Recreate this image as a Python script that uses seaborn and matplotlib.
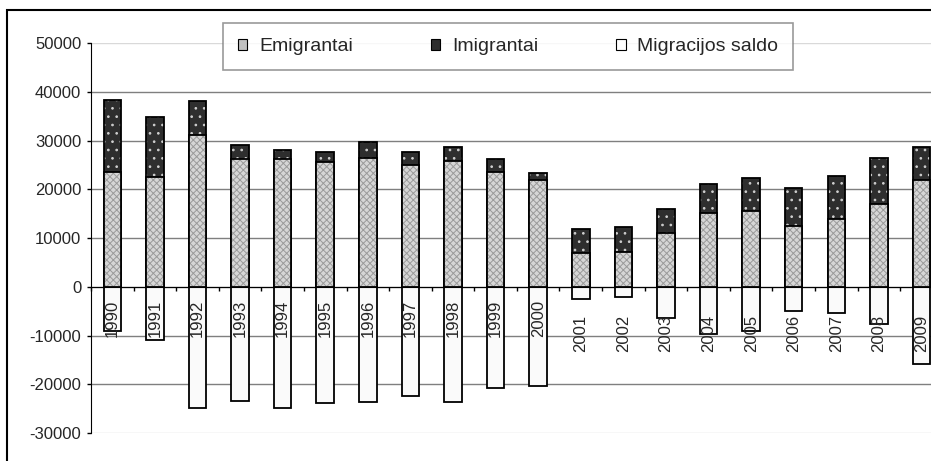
import numpy as np
import matplotlib
matplotlib.use("Agg")
import matplotlib.pyplot as plt
from matplotlib.patches import Patch, Rectangle
import seaborn as sns

years = [str(y) for y in range(1990, 2010)]
emigrantai = [23600, 22600, 31200, 26200, 26300, 25600, 26500, 24900, 25800, 23500,
              21900, 7000, 7100, 11000, 15100, 15500, 12400, 13800, 16900, 21900]
imigrantai = [14800, 12200, 6900, 2900, 1800, 2100, 3200, 2800, 2950, 2800,
              1450, 4850, 5150, 4900, 5900, 6800, 7900, 8850, 9450, 6850]
saldo = [-9000, -11000, -24900, -23500, -24900, -23900, -23600, -22500, -23600, -20850,
         -20450, -2600, -2000, -6400, -9700, -9050, -5000, -5350, -7700, -15750]
yticks = list(range(-30000, 50001, 10000))

sns.set_style("white")
plt.rcParams['font.family'] = ['Liberation Sans', 'DejaVu Sans']
plt.rcParams['axes.unicode_minus'] = False
plt.rcParams['hatch.linewidth'] = 0.7

fig = plt.figure(figsize=(9.31, 4.61), dpi=100)
ax = fig.add_axes([0.0977, 0.0607, 0.915, 0.846])

total = np.array(emigrantai) + np.array(imigrantai)
bw = 0.41
edge_lw = 1.3

# grid lines behind the bars
for t in yticks:
    light = t in (yticks[0], yticks[-1])
    ax.axhline(t, color='#d9d9d9' if light else '#7f7f7f', lw=1.0, zorder=0)

# saldo (negative)
sns.barplot(x=years, y=saldo, color='#fafafa', saturation=1, width=bw,
            edgecolor='black', linewidth=edge_lw, ax=ax, zorder=2)
# imigrantai stacked on emigrantai: draw total, then emigrantai on top
sns.barplot(x=years, y=total, color='#2e2e2e', saturation=1, width=bw,
            edgecolor='#d0d0d0', linewidth=0, hatch='..', ax=ax, zorder=2)
sns.barplot(x=years, y=total, fill=False, color='black', width=bw,
            linewidth=edge_lw, ax=ax, zorder=3)
sns.barplot(x=years, y=emigrantai, color='#d6d6d6', saturation=1, width=bw,
            edgecolor='#9a9a9a', linewidth=0, hatch='xxxxx', ax=ax, zorder=4)
sns.barplot(x=years, y=emigrantai, fill=False, color='black', width=bw,
            linewidth=edge_lw, ax=ax, zorder=5)

ax.set_xlim(-0.5, 19.5)
ax.set_ylim(-30000, 50000)
ax.set_yticks(yticks)
ax.set_yticklabels([str(t) for t in yticks], fontsize=12)
ax.set_xticks(np.arange(-0.5, 20, 1))
ax.set_xticklabels([])
ax.tick_params(axis='x', direction='out', length=3, width=1, color='black', bottom=True)
ax.tick_params(axis='y', direction='out', length=3, width=1, color='black', left=True, pad=4)
ax.set_xlabel('')
ax.set_ylabel('')

for s in ['top', 'right']:
    ax.spines[s].set_visible(False)
ax.spines['bottom'].set_position(('data', 0))
ax.spines['bottom'].set_color('black')
ax.spines['bottom'].set_zorder(6)
ax.spines['left'].set_color('black')

# year labels inside the plot, under the zero line
for i, yr in enumerate(years):
    off = -13 if i < 11 else -28
    ax.annotate(yr, (i, 0), xytext=(0, off), textcoords='offset pixels',
                rotation=90, ha='center', va='top', fontsize=12, zorder=7)

handles = [Patch(facecolor='#c0c0c0', edgecolor='black', lw=0.8),
           Patch(facecolor='#2e2e2e', edgecolor='black', lw=0.8),
           Patch(facecolor='white', edgecolor='black', lw=0.8)]
leg = fig.legend(handles, ['Emigrantai', 'Imigrantai', 'Migracijos saldo'],
                 loc='center', bbox_to_anchor=(0.5457, 0.899), ncol=3,
                 fontsize=14, handlelength=0.5, handleheight=0.5, handletextpad=0.6,
                 columnspacing=4.0, borderpad=0.75, frameon=True, fancybox=False)
leg.get_frame().set_edgecolor('#808080')
leg.get_frame().set_linewidth(1.2)
leg.set_zorder(10)

# outer chart border
fig.patches.append(Rectangle((7 / 931, -0.1), 1.2, 1.1 - 10 / 461,
                             transform=fig.transFigure, fill=False,
                             edgecolor='black', lw=1.5))

fig.savefig('out.png', dpi=100)
